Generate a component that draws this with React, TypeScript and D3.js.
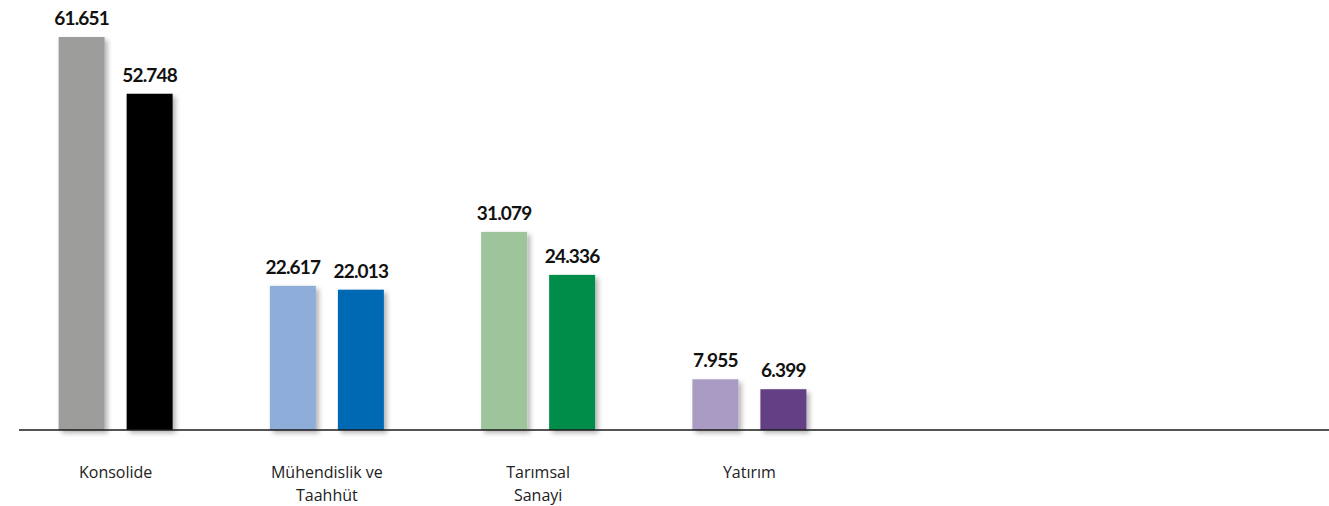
import React, { useEffect, useRef } from "react";
import * as d3 from "d3";

// values are in thousands, Turkish style decimal point as thousand separator
const categories = ["Konsolide", "Mühendislik ve Taahhüt", "Tarımsal Sanayi", "Yatırım"];
const categoryLines = [["Konsolide"], ["Mühendislik ve", "Taahhüt"], ["Tarımsal", "Sanayi"], ["Yatırım"]];
const seriesKeys = ["first", "second"];
const firstValues = [61651, 22617, 31079, 7955];
const secondValues = [52748, 22013, 24336, 6399];

const firstColors = ["#9d9d9c", "#8eadd9", "#9ec49b", "#a99bc4"];
const secondColors = ["#000000", "#0069b4", "#008c4a", "#633f85"];

function App() {
  const ref = useRef<SVGSVGElement>(null);

  useEffect(() => {
    drawChart();
  });

  const drawChart = () => {
    const svg = d3.select(ref.current);
    svg.selectAll("*").remove();

    const baseY = 430;

    const defs = svg.append("defs");
    const filter = defs
      .append("filter")
      .attr("id", "barShadow")
      .attr("x", "-20%")
      .attr("y", "-20%")
      .attr("width", "150%")
      .attr("height", "150%");
    filter
      .append("feDropShadow")
      .attr("dx", 3)
      .attr("dy", 3)
      .attr("stdDeviation", 2.5)
      .attr("flood-color", "#000")
      .attr("flood-opacity", 0.3);

    const x0 = d3.scaleBand().domain(categories).range([10, 855]);
    const x1 = d3
      .scaleBand()
      .domain(seriesKeys)
      .range([0, 114])
      .paddingInner(0.324);
    const y = d3.scaleLinear().domain([0, 61651]).range([baseY, 37]);

    const fmt = (v: number) => d3.format(",")(v).replace(/,/g, ".");

    const rows = categories.map((c, i) => ({
      cat: c,
      bars: [
        { key: "first", value: firstValues[i], color: firstColors[i] },
        { key: "second", value: secondValues[i], color: secondColors[i] }
      ]
    }));

    const groups = svg
      .append("g")
      .selectAll("g")
      .data(rows)
      .join("g")
      .attr(
        "transform",
        d => "translate(" + (x0(d.cat)! + x0.bandwidth() / 2 - 57) + ",0)"
      );

    groups
      .selectAll("rect")
      .data(d => d.bars)
      .join("rect")
      .attr("x", d => x1(d.key)!)
      .attr("y", d => y(d.value))
      .attr("width", x1.bandwidth())
      .attr("height", d => baseY - y(d.value))
      .attr("fill", d => d.color)
      .attr("filter", "url(#barShadow)");

    groups
      .selectAll("text")
      .data(d => d.bars)
      .join("text")
      .attr("x", d => x1(d.key)! + x1.bandwidth() / 2)
      .attr("y", d => y(d.value) - 12)
      .attr("text-anchor", "middle")
      .style("font-family", "Lato, 'Open Sans', sans-serif")
      .style("font-weight", "bold")
      .style("font-size", "19px")
      .style("letter-spacing", "-0.8px")
      .attr("fill", "#111")
      .text(d => fmt(d.value));

    // baseline
    svg
      .append("line")
      .attr("x1", 19)
      .attr("x2", 1329)
      .attr("y1", baseY)
      .attr("y2", baseY)
      .attr("stroke", "#1a1a1a")
      .attr("stroke-width", 1.5);

    // category labels
    const labels = svg
      .append("g")
      .selectAll("text")
      .data(categories)
      .join("text")
      .attr("x", d => x0(d)! + x0.bandwidth() / 2)
      .attr("y", 478)
      .attr("text-anchor", "middle")
      .style("font-family", "'Open Sans', sans-serif")
      .style("font-size", "16px")
      .attr("fill", "#222");

    labels
      .selectAll("tspan")
      .data((d, i) => categoryLines[i])
      .join("tspan")
      .attr("x", function() {
        return (this as any).parentNode.getAttribute("x");
      })
      .attr("dy", (d, i) => (i === 0 ? 0 : 23))
      .text(d => d);
  };

  return (
    <svg
      ref={ref}
      width={1329}
      height={506}
      style={{ position: "absolute", left: 0, top: 0, background: "#fff" }}
    />
  );
}

export default App;
